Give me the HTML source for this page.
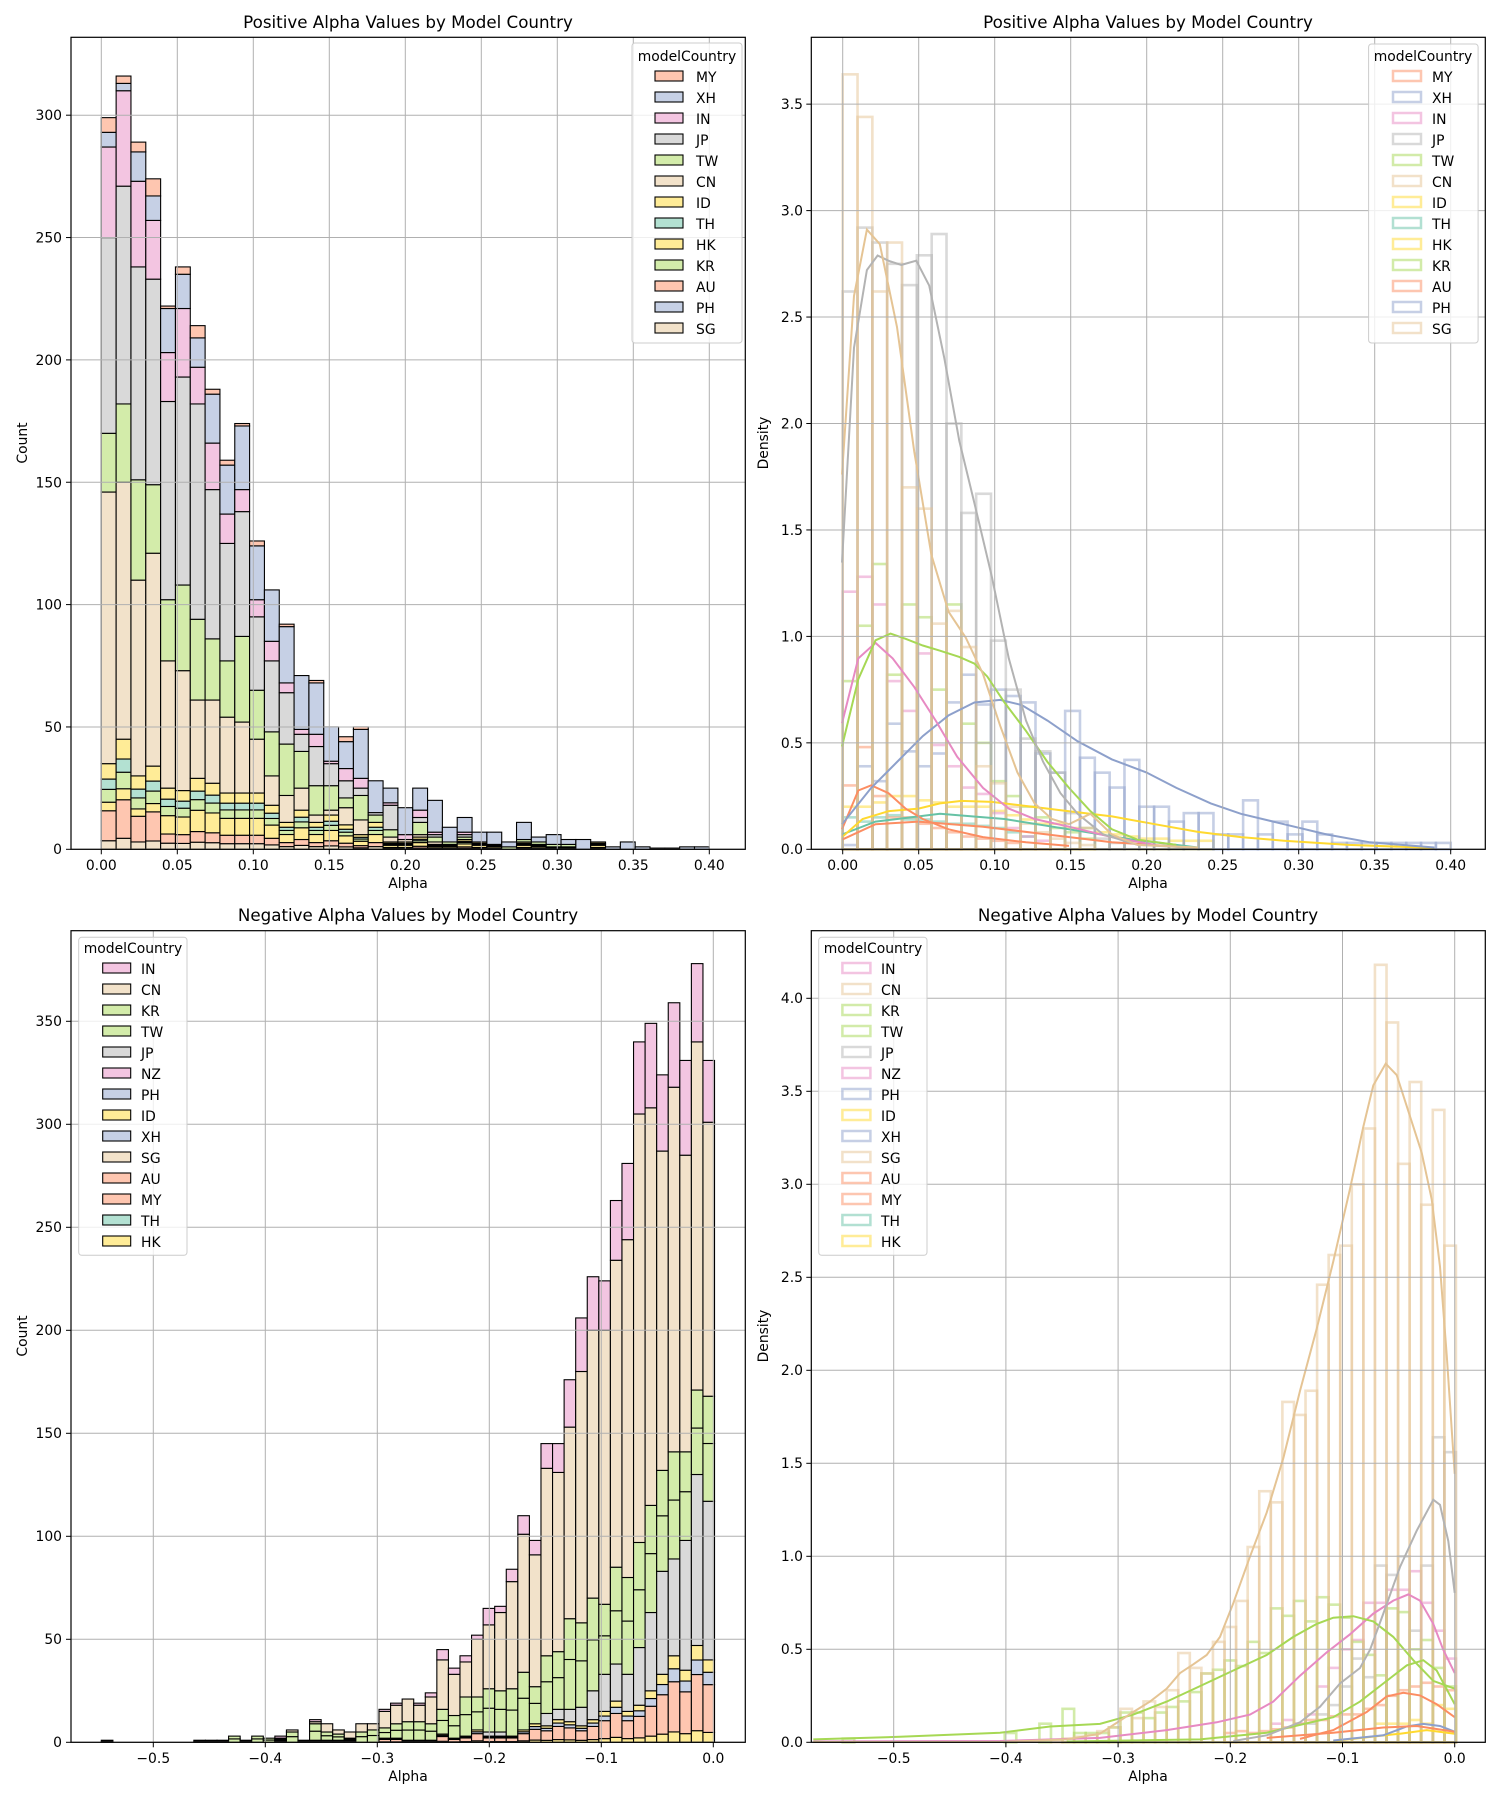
<!DOCTYPE html>
<html><head><meta charset="utf-8"><style>
html,body{margin:0;padding:0;background:#fff;}
svg{display:block;font-family:"DejaVu Sans","Liberation Sans",sans-serif;}
</style></head><body>
<svg id="s" width="1500" height="1800" viewBox="0 0 1500 1800" xmlns="http://www.w3.org/2000/svg">
<rect width="1500" height="1800" fill="#fff"/>
<g id="data"></g>
<g id="grid" stroke="#b0b0b0" stroke-width="1"></g>
<g id="axes" fill="none" stroke="#000" stroke-width="1.2">
<rect x="71" y="37.3" width="674.3" height="812"/>
<rect x="811.3" y="37.3" width="674" height="812"/>
<rect x="71" y="930.7" width="674.3" height="811.6"/>
<rect x="811.3" y="930.7" width="674" height="811.6"/>
</g>
<g id="ticks" stroke="#000" stroke-width="1"></g>
<g font-size="16.7" text-anchor="middle" fill="#000">
<text x="408" y="28">Positive Alpha Values by Model Country</text>
<text x="1148" y="28">Positive Alpha Values by Model Country</text>
<text x="408" y="921">Negative Alpha Values by Model Country</text>
<text x="1148" y="921">Negative Alpha Values by Model Country</text>
</g>
<g font-size="13.9" text-anchor="middle" fill="#000">
<text x="408" y="888">Alpha</text><text x="1148" y="888">Alpha</text>
<text x="408" y="1781">Alpha</text><text x="1148" y="1781">Alpha</text>
<text transform="translate(27,443) rotate(-90)">Count</text>
<text transform="translate(768,443) rotate(-90)">Density</text>
<text transform="translate(27,1336) rotate(-90)">Count</text>
<text transform="translate(768,1336) rotate(-90)">Density</text>
</g>
<g font-size="13.9" text-anchor="middle" fill="#000">
<text x="101.3" y="870">0.00</text><text x="177.3" y="870">0.05</text><text x="253.3" y="870">0.10</text><text x="329.3" y="870">0.15</text><text x="405.3" y="870">0.20</text><text x="481.3" y="870">0.25</text><text x="557.3" y="870">0.30</text><text x="633.3" y="870">0.35</text><text x="709.3" y="870">0.40</text>
<text x="842.7" y="870">0.00</text><text x="918.7" y="870">0.05</text><text x="994.7" y="870">0.10</text><text x="1070.7" y="870">0.15</text><text x="1146.7" y="870">0.20</text><text x="1222.7" y="870">0.25</text><text x="1298.7" y="870">0.30</text><text x="1374.7" y="870">0.35</text><text x="1450.7" y="870">0.40</text>
<text x="153.3" y="1763">−0.5</text><text x="265.3" y="1763">−0.4</text><text x="377.3" y="1763">−0.3</text><text x="489.3" y="1763">−0.2</text><text x="601.3" y="1763">−0.1</text><text x="713.3" y="1763">0.0</text>
<text x="893.7" y="1763">−0.5</text><text x="1005.9" y="1763">−0.4</text><text x="1118.1" y="1763">−0.3</text><text x="1230.3" y="1763">−0.2</text><text x="1342.5" y="1763">−0.1</text><text x="1454.7" y="1763">0.0</text>
</g>
<g font-size="13.9" text-anchor="end" fill="#000">
<text x="62" y="854">0</text><text x="62" y="732">50</text><text x="62" y="609.6">100</text><text x="62" y="487.3">150</text><text x="62" y="364.9">200</text><text x="62" y="242.6">250</text><text x="62" y="120.2">300</text>
<text x="803" y="854">0.0</text><text x="803" y="748">0.5</text><text x="803" y="641.4">1.0</text><text x="803" y="535">1.5</text><text x="803" y="428.5">2.0</text><text x="803" y="322">2.5</text><text x="803" y="215.6">3.0</text><text x="803" y="109.2">3.5</text>
<text x="62" y="1747">0</text><text x="62" y="1644">50</text><text x="62" y="1541">100</text><text x="62" y="1438">150</text><text x="62" y="1335">200</text><text x="62" y="1232">250</text><text x="62" y="1129">300</text><text x="62" y="1026">350</text>
<text x="803" y="1747">0.0</text><text x="803" y="1654">0.5</text><text x="803" y="1561">1.0</text><text x="803" y="1468">1.5</text><text x="803" y="1375">2.0</text><text x="803" y="1282">2.5</text><text x="803" y="1189">3.0</text><text x="803" y="1096">3.5</text><text x="803" y="1003">4.0</text>
</g>
<g id="leg"></g>
<g font-size="13.9" fill="#000">
<text x="687" y="61" text-anchor="middle">modelCountry</text>
<text x="696" y="82">MY</text><text x="696" y="103">XH</text><text x="696" y="124">IN</text><text x="696" y="145">JP</text><text x="696" y="166">TW</text><text x="696" y="187">CN</text><text x="696" y="208">ID</text><text x="696" y="229">TH</text><text x="696" y="250">HK</text><text x="696" y="271">KR</text><text x="696" y="292">AU</text><text x="696" y="313">PH</text><text x="696" y="334">SG</text>
<text x="1423" y="61" text-anchor="middle">modelCountry</text>
<text x="1432" y="82">MY</text><text x="1432" y="103">XH</text><text x="1432" y="124">IN</text><text x="1432" y="145">JP</text><text x="1432" y="166">TW</text><text x="1432" y="187">CN</text><text x="1432" y="208">ID</text><text x="1432" y="229">TH</text><text x="1432" y="250">HK</text><text x="1432" y="271">KR</text><text x="1432" y="292">AU</text><text x="1432" y="313">PH</text><text x="1432" y="334">SG</text>
<text x="133" y="953" text-anchor="middle">modelCountry</text>
<text x="141" y="974">IN</text><text x="141" y="995">CN</text><text x="141" y="1016">KR</text><text x="141" y="1037">TW</text><text x="141" y="1058">JP</text><text x="141" y="1079">NZ</text><text x="141" y="1100">PH</text><text x="141" y="1121">ID</text><text x="141" y="1142">XH</text><text x="141" y="1163">SG</text><text x="141" y="1184">AU</text><text x="141" y="1205">MY</text><text x="141" y="1226">TH</text><text x="141" y="1247">HK</text>
<text x="873" y="953" text-anchor="middle">modelCountry</text>
<text x="881" y="974">IN</text><text x="881" y="995">CN</text><text x="881" y="1016">KR</text><text x="881" y="1037">TW</text><text x="881" y="1058">JP</text><text x="881" y="1079">NZ</text><text x="881" y="1100">PH</text><text x="881" y="1121">ID</text><text x="881" y="1142">XH</text><text x="881" y="1163">SG</text><text x="881" y="1184">AU</text><text x="881" y="1205">MY</text><text x="881" y="1226">TH</text><text x="881" y="1247">HK</text>
</g>
</svg>
<script>
(function(){
var NS="http://www.w3.org/2000/svg";
function el(p,t,a){var e=document.createElementNS(NS,t);for(var k in a)e.setAttribute(k,a[k]);p.appendChild(e);return e;}
var D=document.getElementById('data'),G=document.getElementById('grid'),T=document.getElementById('ticks'),L=document.getElementById('leg');
var S={teal:'#66c2a5',or:'#fc8d62',bl:'#8da0cb',pk:'#e78ac3',gn:'#a6d854',ye:'#ffd92f',tan:'#e5c494',gr:'#b3b3b3'};
var F={teal:'#b3e1d2',or:'#fec6b0',bl:'#c6d0e5',pk:'#f3c5e1',gn:'#d3ecaa',ye:'#ffec97',tan:'#f2e2ca',gr:'#d9d9d9'};
function vline(x,y0,y1){el(G,'line',{x1:x,x2:x,y1:y0,y2:y1});el(T,'line',{x1:x,x2:x,y1:y1,y2:y1+5});}
function hline(y,x0,x1){el(G,'line',{x1:x0,x2:x1,y1:y,y2:y});el(T,'line',{x1:x0-5,x2:x0,y1:y,y2:y});}
for(var i=0;i<9;i++){vline(101.3+76*i,37.3,849.3);vline(842.7+76*i,37.3,849.3);}
for(i=0;i<7;i++)hline(849.3-2.447*50*i,71,745.3);
for(i=0;i<8;i++)hline(849.3-106.45*i,811.3,1485.3);
for(i=0;i<6;i++){vline(153.3+112*i,930.7,1742.3);vline(893.7+112.2*i,930.7,1742.3);}
for(i=0;i<8;i++)hline(1742.3-103*i,71,745.3);
for(i=0;i<9;i++)hline(1742.3-93*i,811.3,1485.3);
var tl=[[35,146,170,250,287,293,299],[45,150,182,271,310,313,316],[30,110,151,238,273,285,289],[34,121,149,233,257,267,274],[25,77,102,183,203,221,222],[24,73,108,193,221,235,238],[29,61,94,182,197,209,214],[27,61,86,147,166,186,188],[23,54,77,125,137,157,159],[23,52,87,138,147,173,174],[23,45,65,95,102,124,126],[18,30,48,77,85,106,106],[11,22,43,64,68,91,92],[16,25,40,47,49,71,71],[11,14,26,42,47,68,69],[14,16,26,35,36,50,50],[10,17,21,28,33,44,46],[6,12,22,25,29,49,50],[11,11,14,15,15,28,28],[3,5,8,18,19,25,25],[3,4,4,4,6,17,17],[5,6,11,13,16,25,25],[2,3,5,6,7,20,20],[2,2,3,3,3,9,9],[4,4,5,6,7,13,13],[3,3,3,3,3,7,7],[2,2,2,2,2,7,7],[0,0,1,1,1,3,3],[3,3,4,4,4,11,11],[2,2,3,3,3,5,5],[1,1,2,2,2,6,6],[1,1,2,2,2,4,4],[0,0,0,0,0,4,4],[3,3,3,3,3,3,3],[0,0,0,0,0,1,1],[0,0,0,0,0,3,3],[0,0,0,0,0,1,1],[0,0,0,0,0,.5,.5],[0,0,0,0,0,.5,.5],[0,0,0,0,0,1,1],[0,0,0,0,0,1,1]];
var tlc=[F.tan,F.gn,F.gr,F.pk,F.bl,F.or];
function seg(x,w,y0,y1,c){if(y0-y1<0.05)return;el(D,'rect',{x:x,y:y1,width:w,height:y0-y1,fill:c,stroke:'#000','stroke-width':1.1});}
tl.forEach(function(b,k){var x=101.3+14.83*k,w=14.83,Y=function(c){return 849.3-2.447*c;};
 var m=b[0];var o=k<4?0.45:0.25;
 seg(x,w,Y(0),Y(m*0.1),F.tan);seg(x,w,Y(m*0.1),Y(m*o),F.or);seg(x,w,Y(m*o),Y(m*0.55),F.ye);seg(x,w,Y(m*0.55),Y(m*0.7),F.gn);seg(x,w,Y(m*0.7),Y(m*0.82),F.teal);seg(x,w,Y(m*0.82),Y(m),F.ye);
 for(var j=1;j<7;j++)seg(x,w,Y(b[j-1]),Y(b[j]),tlc[j-1]);});
var left=[[-24,0,0,1,1,1],[-16,0,0,1,1,1],[-15,0,0,1,1,1],[-14,0,0,1,1,1],[-13,0,0,3,3,3],[-12,0,0,1,1,1],[-11,0,0,3,3,3],[-10,0,0,2,2,2],[-9,1,1,2,2,3],[-8,0,0,5,6,6],[-7,0,0,1,1,1],[-6,1,1,9,10,11],[-5,1,1,5,9,9],[-4,1,1,4,6,6],[-3,1,1,2,5,5],[-2,0,0,5,9,9],[-1,0,0,6,9,9]];
var right=[[2,2,7,15,16],[2,2,9,18,19],[1,1,10,21,21],[1,1,10,18,19],[1,1,9,22,24],[4,4,16,40,45],[2,2,13,33,36],[3,3,22,39,42],[6,6,22,50,52],[3,5,26,57,65],[3,5,25,63,66],[3,3,26,78,84],[6,6,34,101,110],[9,9,27,91,98],[8,14,42,133,145],[11,16,44,131,145],[10,16,60,153,176],[8,17,58,180,206],[11,25,70,200,226],[15,33,67,200,224],[20,38,85,234,263],[15,33,80,244,281],[18,46,97,305,340],[25,63,115,308,349],[33,83,132,287,324],[42,89,141,318,359],[35,98,141,285,331],[47,130,171,340,378],[40,117,168,301,331]];
function blbar(k,b){var x=379+11.57*k,w=11.57,Y=function(c){return 1742.3-2.06*c;};var m=b[0];
 seg(x,w,Y(0),Y(m*0.12),F.ye);seg(x,w,Y(m*0.12),Y(m*0.7),F.or);seg(x,w,Y(m*0.7),Y(m*0.85),F.bl);seg(x,w,Y(m*0.85),Y(m),F.ye);
 seg(x,w,Y(m),Y(b[1]),F.gr);
 var gm=b[1]+(b[2]-b[1])*0.55;seg(x,w,Y(b[1]),Y(gm),F.gn);seg(x,w,Y(gm),Y(b[2]),F.gn);
 seg(x,w,Y(b[2]),Y(b[3]),F.tan);seg(x,w,Y(b[3]),Y(b[4]),F.pk);}
left.forEach(function(b){blbar(b[0],b.slice(1));});
right.forEach(function(b,k){blbar(k,b);});
function ohist(x0,w,arr,yf,col,sw){var g=el(D,'g',{fill:'none',stroke:col,'stroke-width':sw||2.6,'stroke-opacity':0.5});
 arr.forEach(function(v,k){if(v<=0)return;var y=yf(v),yb=yf(0);el(g,'rect',{x:x0+w*k,y:y,width:w,height:yb-y});});}
function curve(pts,fx,fy,col){var d='';pts.forEach(function(p,i){d+=(i?'L':'M')+fx(p[0]).toFixed(1)+','+fy(p[1]).toFixed(1);});el(D,'path',{d:d,fill:'none',stroke:col,'stroke-width':2});}
var YR=function(d){return 849.3-212.9*d;};
ohist(842.7,14.83,[0.2,0.2,0.22,0.25,0.25,0.23,0.22,0.2,0.2,0.2,0.18,0.16,0.14,0.12,0.12,0.1,0.1,0.08,0.07,0.06,0.05,0.05,0.04,0.04,0.04],YR,S.ye);
ohist(842.7,14.83,[0.3,0.48,0.25,0.15,0.15,0.12,0.1,0.08,0.06,0.05,0.04,0.03],YR,S.or);
ohist(842.7,14.83,[0.15,0.13,0.15,0.16,0.14,0.14,0.13,0.12,0.12,0.11,0.1,0.08,0.06],YR,S.teal);
ohist(842.7,14.83,[0.02,0.39,0.32,0.59,0.46,0.39,0.45,0.69,0.82,0.68,0.75,0.72,0.69,0.45,0.36,0.65,0.43,0.36,0.29,0.42,0.2,0.2,0.13,0.17,0.17,0.07,0.07,0.23,0.07,0.13,0.07,0.13,0.07,0.03,0.03,0.03,0.03,0.03,0.03,0.03,0.03],YR,S.bl);
ohist(842.7,14.83,[1.21,1.28,1.15,0.79,0.65,0.92,0.49,0.39,0.29,0.26,0.17,0.1,0.06,0.04],YR,S.pk);
ohist(842.7,14.83,[0.79,1.05,1.34,0.82,1.15,1.09,0.75,1.15,0.59,0.5,0.32,0.25,0.2,0.15,0.1,0.08,0.05],YR,S.gn);
ohist(842.7,14.83,[2.62,2.92,2.85,2.75,2.65,2.79,2.89,2.0,1.58,1.67,0.98,0.75,0.52,0.46,0.36,0.17,0.1,0.05,0.03],YR,S.gr);
ohist(842.7,14.83,[3.64,3.44,2.62,2.85,1.70,1.60,1.06,1.12,0.95,0.39,0.31,0.2,0.12,0.08,0.05,0.03,0.02],YR,S.tan);
var fx7=function(z){return 811+z/2.326;},fy7=function(z){return 37+z/1.931;};
curve([[72,1550],[150,1520],[250,1515],[400,1525],[550,1540],[700,1555],[900,1566]],fx7,fy7,S.or);
curve([[72,1540],[150,1515],[300,1500],[450,1510],[600,1530],[750,1550],[900,1565]],fx7,fy7,S.teal);
curve([[72,1545],[120,1510],[180,1495],[250,1490],[300,1480],[350,1475],[420,1477],[500,1485],[600,1495],[700,1505],[800,1520],[900,1535],[1000,1545],[1100,1552],[1250,1560],[1450,1566]],fx7,fy7,S.ye);
curve([[72,1530],[110,1455],[140,1445],[180,1460],[220,1490],[260,1510],[320,1530],[400,1545],[500,1555],[600,1562]],fx7,fy7,S.or);
curve([[72,1520],[140,1450],[200,1400],[260,1350],[320,1310],[380,1285],[440,1280],[490,1290],[550,1320],[620,1360],[700,1395],[780,1420],[850,1450],[930,1480],[1000,1500],[1100,1520],[1200,1540],[1300,1555],[1450,1565]],fx7,fy7,S.bl);
curve([[72,1325],[110,1200],[150,1170],[190,1200],[240,1255],[290,1320],[340,1390],[400,1450],[460,1490],[520,1510],[600,1525],[700,1545],[800,1560]],fx7,fy7,S.pk);
curve([[72,1370],[110,1240],[150,1165],[185,1152],[220,1162],[260,1175],[300,1185],[345,1197],[380,1210],[410,1235],[450,1285],[500,1340],[550,1400],[600,1450],[650,1495],[700,1530],[760,1550],[850,1560]],fx7,fy7,S.gn);
curve([[72,1015],[100,600],[130,450],[155,422],[180,432],[210,440],[245,432],[275,480],[310,620],[345,780],[380,900],[420,1040],[460,1200],[500,1320],[540,1400],[580,1460],[620,1500],[680,1540],[760,1560],[900,1566]],fx7,fy7,S.gr);
curve([[72,845],[100,500],[130,372],[160,400],[200,560],[240,800],[280,1000],[320,1110],[360,1160],[400,1230],[440,1330],[480,1420],[520,1480],[560,1510],[600,1520],[650,1500],[700,1540],[760,1560],[900,1565]],fx7,fy7,S.tan);
var YB=function(d){return 1742.3-186*d;};var x0b=1120.4-11.57*24;
function pad(a,n){var r=[];for(var i=0;i<n;i++)r.push(0);return r.concat(a);}
ohist(x0b,11.57,pad([0.05,0.06,0.05,0.06,0.07,0.08,0.1,0.12,0.12,0.14,0.15,0.15,0.18,0.2,0.25,0.28,0.3,0.32,0.3,0.28],33),YB,S.or);
ohist(x0b,11.57,pad([0.1,0.1,0.1,0.12,0.1,0.2,0.18],46),YB,S.ye);
ohist(x0b,11.57,pad([0.1,0.12,0.1,0.15,0.3,0.4,0.5,0.55,0.75,0.75,0.82,0.82,0.92,0.75,0.6,0.45],37),YB,S.pk);
ohist(x0b,11.57,pad([0.1,0.15,0.2,0.3,0.45,0.35,0.95,0.9,1.0,0.6,0.95,1.64,1.56],40),YB,S.gr);
ohist(x0b,11.57,[0.02,0,0,0,0,0,0,0,0,0,0,0,0,0,0.05,0,0,0.1,0,0.18,0.05,0.05,0.05,0.08,0.16,0.16,0.13,0.16,0.19,0.22,0.27,0.37,0.39,0.44,0.41,0.54,0.48,0.72,0.68,0.76,0.65,0.78,0.74,0.67,0.54,0.47,0.36,0.72,0.7,0.5,0.55,0.4,0.3],YB,S.gn);
ohist(x0b,11.57,pad([0.01,0.02,0.03,0.04,0.06,0.08,0.18,0.13,0.22,0.19,0.28,0.48,0.40,0.37,0.54,0.62,0.76,1.05,1.35,1.29,1.83,1.76,1.89,2.46,2.62,2.67,3.0,3.30,4.18,3.87,3.11,3.55,2.89,3.40,2.67],18),YB,S.tan);
var fx8=function(z){return 1000+z/3;},fy8=function(z){return 930+z/1.931;};
curve([[1000,1566],[1200,1552],[1280,1545],[1364,1552]],fx8,fy8,S.ye);
curve([[1000,1565],[1150,1555],[1220,1538],[1270,1533],[1320,1537],[1364,1548]],fx8,fy8,S.bl);
curve([[800,1560],[1000,1550],[1150,1540],[1250,1537],[1364,1548]],fx8,fy8,S.or);
curve([[900,1562],[1000,1545],[1100,1510],[1160,1480],[1210,1473],[1260,1478],[1310,1495],[1364,1520]],fx8,fy8,S.or);
curve([[200,1567],[600,1563],[800,1550],[900,1535],[1000,1520],[1080,1490],[1150,1455],[1220,1420],[1270,1410],[1310,1430],[1364,1495]],fx8,fy8,S.gn);
curve([[-560,1567],[0,1566],[300,1560],[500,1545],[650,1530],[750,1515],[820,1490],[900,1440],[980,1395],[1050,1360],[1120,1320],[1180,1295],[1225,1283],[1260,1295],[1300,1340],[1330,1390],[1364,1435]],fx8,fy8,S.pk);
curve([[-560,1563],[-300,1558],[0,1550],[150,1538],[300,1533],[400,1515],[500,1490],[600,1460],[700,1430],[800,1400],[880,1365],[950,1340],[1000,1328],[1060,1325],[1120,1335],[1180,1365],[1240,1410],[1300,1450],[1364,1465]],fx8,fy8,S.gn);
curve([[700,1566],[800,1555],[900,1530],[960,1500],[1020,1455],[1080,1425],[1110,1390],[1150,1320],[1200,1230],[1250,1160],[1300,1100],[1320,1110],[1345,1180],[1364,1280]],fx8,fy8,S.gr);
curve([[-560,1568],[0,1568],[200,1563],[300,1552],[400,1510],[450,1490],[500,1465],[540,1435],[580,1418],[620,1400],[660,1365],[700,1300],[750,1210],[800,1125],[850,1020],[900,890],[950,770],[1000,640],[1050,500],[1090,380],[1120,300],[1157,258],[1190,280],[1220,340],[1265,430],[1295,520],[1320,650],[1340,820],[1364,1050]],fx8,fy8,S.tan);
function legend(x,y,w,h,px,py0,cols,filled){
 el(L,'rect',{x:x,y:y,width:w,height:h,rx:3,fill:'#fff','fill-opacity':0.8,stroke:'#ccc'});
 cols.forEach(function(c,i){var yy=py0+21*i;
  if(filled)el(L,'rect',{x:px,y:yy-6,width:28,height:10,fill:F[c],stroke:'#000','stroke-width':1.1});
  else el(L,'rect',{x:px,y:yy-6,width:28,height:10,fill:'none',stroke:S[c],'stroke-opacity':0.5,'stroke-width':2.5});});}
var topc=['or','bl','pk','gr','gn','tan','ye','teal','ye','gn','or','bl','tan'];
var botc=['pk','tan','gn','gn','gr','pk','bl','ye','bl','tan','or','or','teal','ye'];
legend(632,43,110,300,655,77,topc,true);
legend(1368.6,44,109.5,299,1393,77,topc,false);
legend(78.7,937.3,108.3,318,102.7,969,botc,true);
legend(818.7,937.3,108.3,318,842.4,969,botc,false);
})();
</script>
</body></html>
